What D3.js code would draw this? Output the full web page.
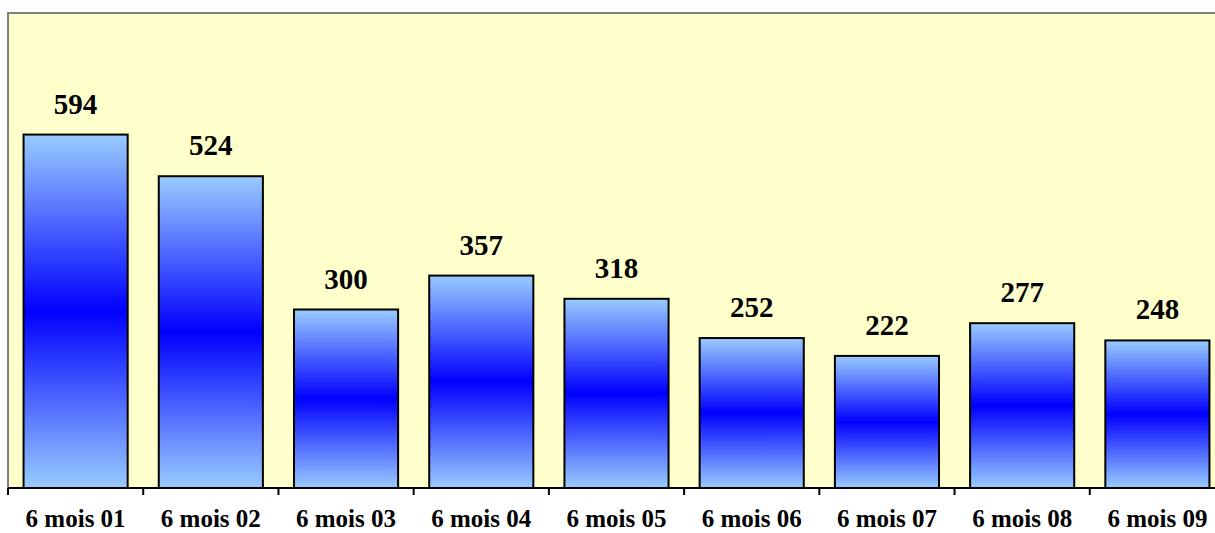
<!DOCTYPE html>
<html><head><meta charset="utf-8">
<script src="https://cdn.jsdelivr.net/npm/d3@7"></script>
<style>body{margin:0;background:#fff}svg{display:block}</style>
</head><body>
<script>
const categories = ["6 mois 01","6 mois 02","6 mois 03","6 mois 04","6 mois 05","6 mois 06","6 mois 07","6 mois 08","6 mois 09"];
const values = [594,524,300,357,318,252,222,277,248];
const yMax = 800;

const W = 1215, H = 533;
const plot = {left: 8, top: 13, right: 1225, bottom: 488};
const svg = d3.select("body").append("svg").attr("width", W).attr("height", H);

const defs = svg.append("defs");
const g = defs.append("linearGradient").attr("id","barGrad").attr("x1",0).attr("y1",0).attr("x2",0).attr("y2",1);
g.append("stop").attr("offset","0%").attr("stop-color","#99CCFF");
g.append("stop").attr("offset","50%").attr("stop-color","#0000FF");
g.append("stop").attr("offset","100%").attr("stop-color","#99CCFF");

const x = d3.scaleBand().domain(categories).range([plot.left, plot.right]).paddingInner(0.23).paddingOuter(0.115);
const xTick = d3.scaleBand().domain(categories).range([plot.left, plot.right]);
const y = d3.scaleLinear().domain([0, yMax]).range([plot.bottom, plot.top - 1]);

svg.append("rect").attr("x", plot.left).attr("y", plot.top)
  .attr("width", plot.right - plot.left).attr("height", plot.bottom - plot.top)
  .attr("fill", "#FFFFCC").attr("stroke", "#808080").attr("stroke-width", 2);

svg.selectAll("rect.bar").data(values).join("rect").attr("class","bar")
  .attr("x", (d,i) => x(categories[i]))
  .attr("y", d => y(d))
  .attr("width", x.bandwidth())
  .attr("height", d => y(0) - y(d))
  .attr("fill", "url(#barGrad)")
  .attr("stroke", "#000").attr("stroke-width", 2);

svg.selectAll("text.val").data(values).join("text").attr("class","val")
  .attr("x", (d,i) => x(categories[i]) + x.bandwidth()/2)
  .attr("y", d => y(d) - 21)
  .attr("text-anchor","middle")
  .attr("font-family","'Liberation Serif','Times New Roman',serif")
  .attr("font-weight","bold").attr("font-size", 29)
  .text(d => d);

// axis
const axis = svg.append("g");
axis.append("line").attr("x1", plot.left).attr("x2", plot.right).attr("y1", plot.bottom).attr("y2", plot.bottom)
  .attr("stroke","#000").attr("stroke-width",2);
const tickXs = categories.map(c => xTick(c));
axis.selectAll("line.tick").data(tickXs).join("line").attr("class","tick")
  .attr("x1", d => d).attr("x2", d => d).attr("y1", plot.bottom).attr("y2", plot.bottom + 7)
  .attr("stroke","#000").attr("stroke-width",2);
axis.selectAll("text.cat").data(categories).join("text").attr("class","cat")
  .attr("x", d => xTick(d) + xTick.bandwidth()/2)
  .attr("y", 527)
  .attr("text-anchor","middle")
  .attr("font-family","'Liberation Serif','Times New Roman',serif")
  .attr("font-weight","bold").attr("font-size", 25)
  .text(d => d);
</script>
</body></html>
